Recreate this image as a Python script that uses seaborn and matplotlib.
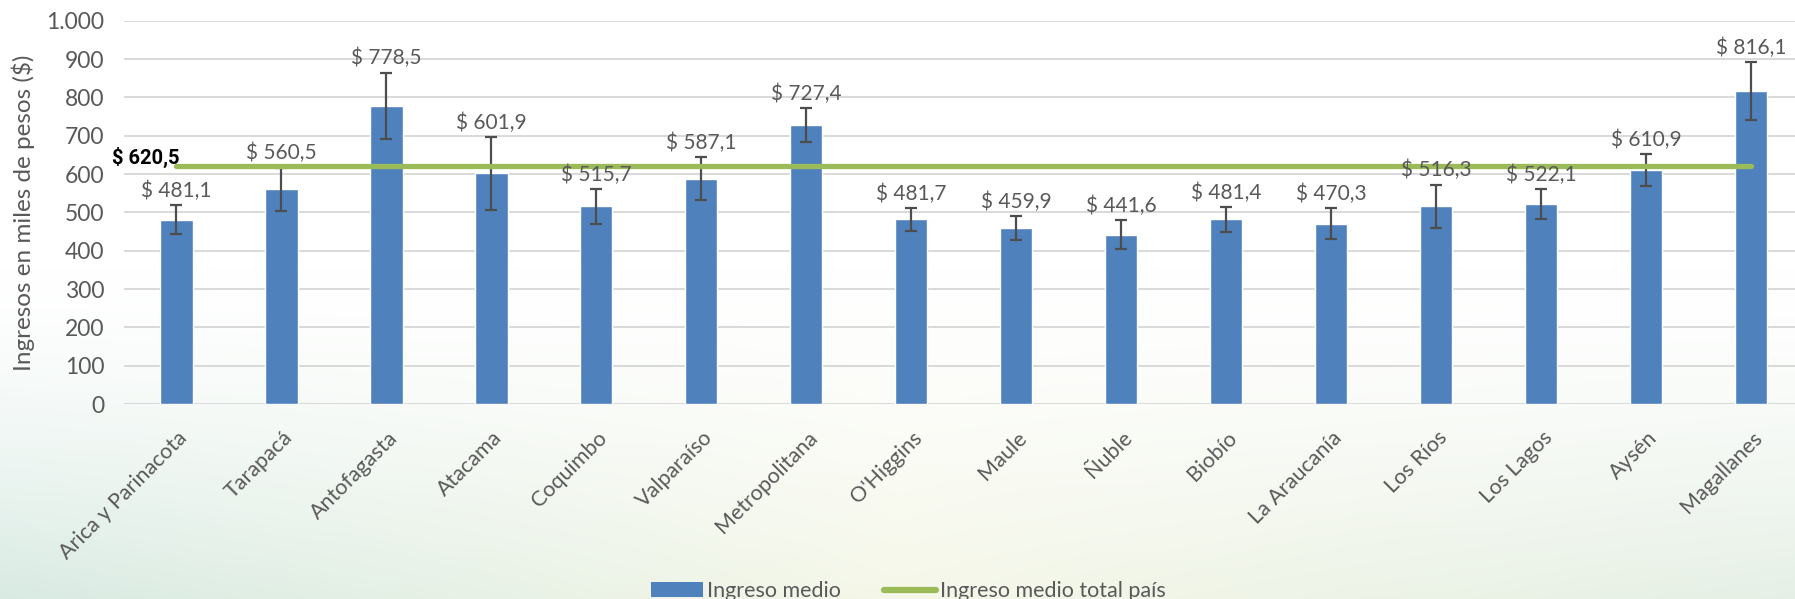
import numpy as np
import pandas as pd
import matplotlib
matplotlib.use('Agg')
import matplotlib.pyplot as plt
import matplotlib.transforms as mtransforms
from matplotlib.patches import Patch
from matplotlib.lines import Line2D
from matplotlib.ticker import FuncFormatter
import seaborn as sns

# Datos del gráfico
regiones = ['Arica y Parinacota', 'Tarapacá', 'Antofagasta', 'Atacama', 'Coquimbo',
            'Valparaíso', 'Metropolitana', "O'Higgins", 'Maule', 'Ñuble', 'Biobío',
            'La Araucanía', 'Los Ríos', 'Los Lagos', 'Aysén', 'Magallanes']
ingreso_medio = [481.1, 560.5, 778.5, 601.9, 515.7, 587.1, 727.4, 481.7,
                 459.9, 441.6, 481.4, 470.3, 516.3, 522.1, 610.9, 816.1]
error_ingreso = [37, 56, 86, 95, 45, 56, 44, 30, 31, 38, 32, 41, 56, 39, 41, 75]
ingreso_pais = 620.5

gris = '#595959'
azul = '#4F81BD'
verde = '#9BBB59'

sns.set_style('white')
plt.rcParams['font.family'] = ['Lato', 'DejaVu Sans']

fig = plt.figure(figsize=(17.95, 5.99), dpi=100)
fig.patch.set_facecolor('white')

# Fondo degradado (blanco arriba, verde pálido abajo)
bg = fig.add_axes([0, 0, 1, 1], zorder=-10)
h, w = 300, 600
yy = np.linspace(0, 1, h)[:, None]
xx = np.linspace(0, 1, w)[None, :]
t = np.clip((yy - 0.45) / 0.55, 0, 1) ** 1.4
izq = np.array([0.85, 0.92, 0.89])
centro = np.array([0.96, 0.97, 0.91])
der = np.array([0.90, 0.94, 0.90])
base = np.where(xx[..., None] < 0.5,
                izq + (centro - izq) * (xx[..., None] / 0.5),
                centro + (der - centro) * ((xx[..., None] - 0.5) / 0.5))
img = np.ones((h, w, 3)) * (1 - t[..., None]) + base * t[..., None]
bg.imshow(img, aspect='auto', extent=[0, 1, 0, 1])
bg.axis('off')

ax = fig.add_axes([0.069, 0.3255, 0.931, 0.64])
ax.set_facecolor('none')

df = pd.DataFrame({'region': regiones, 'ingreso': ingreso_medio, 'error': error_ingreso})

# Barras
sns.barplot(data=df, x='region', y='ingreso', color=azul, width=0.31,
            saturation=1, errorbar=None, ax=ax, zorder=2)
x = np.arange(len(regiones))
ax.errorbar(x, df['ingreso'], yerr=df['error'], fmt='none', ecolor='#4d4d4d',
            elinewidth=1.6, capsize=4, capthick=1.6, zorder=3)

# Línea del promedio país
ax.plot(x, [ingreso_pais] * len(x), color=verde, lw=3.8,
        solid_capstyle='round', zorder=4)
ax.text(0.03, ingreso_pais + 22, f'$ {ingreso_pais:.1f}'.replace('.', ','),
        ha='right', va='center', fontsize=14.5, fontweight='bold', color='black',
        family=['Roboto', 'DejaVu Sans'], zorder=6, clip_on=False)

# Etiquetas de datos
for xi, v, e in zip(x, ingreso_medio, error_ingreso):
    etiqueta = f'$ {v:.1f}'.replace('.', ',')
    ax.annotate(etiqueta, (xi, v + e), xytext=(0, 3), textcoords='offset points',
                ha='center', va='bottom', fontsize=15, color=gris, zorder=5)

# Ejes
ax.set_ylim(0, 1000)
ax.set_xlim(-0.5, 15.42)
ax.set_yticks(range(0, 1001, 100))
ax.yaxis.set_major_formatter(FuncFormatter(lambda v, p: f'{int(v):,}'.replace(',', '.')))
ax.grid(axis='y', color='#d9d9d9', lw=1.4, zorder=0)
ax.set_axisbelow(True)
sns.despine(ax=ax, left=True, bottom=True, top=True, right=True)
ax.tick_params(axis='y', length=0, pad=14, labelsize=16.5, labelcolor=gris)
ax.tick_params(axis='x', length=0, pad=22, labelsize=15.5, labelcolor=gris)
ax.set_xlabel('')
ax.set_ylabel('Ingresos en miles de pesos ($)', fontsize=17.5, color=gris, labelpad=8)

ax.set_xticks(x)
ax.set_xticklabels(regiones)
desplaza = mtransforms.ScaledTranslation(8 / 100, 0, fig.dpi_scale_trans)
for lbl in ax.get_xticklabels():
    lbl.set_rotation(45)
    lbl.set_ha('right')
    lbl.set_va('center')
    lbl.set_rotation_mode('anchor')
    lbl.set_transform(lbl.get_transform() + desplaza)

# Leyenda
handles = [Patch(facecolor=azul, edgecolor='none'),
           Line2D([0], [0], color=verde, lw=4.5)]
leg = fig.legend(handles, ['Ingreso medio', 'Ingreso medio total país'],
                 loc='center', bbox_to_anchor=(0.506, 0.013), ncol=2, frameon=False,
                 fontsize=15.5, handlelength=2.4, handletextpad=0.2, columnspacing=2.0)
for txt in leg.get_texts():
    txt.set_color(gris)

fig.savefig('out.png', dpi=100)
